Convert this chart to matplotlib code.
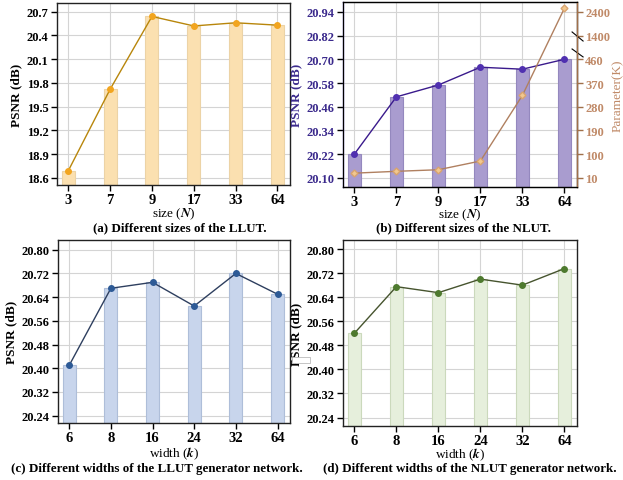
import numpy as np
import matplotlib
matplotlib.use("Agg")
import matplotlib.pyplot as plt
from matplotlib.patches import Rectangle

plt.rcParams['font.family'] = ['Liberation Serif', 'DejaVu Serif']
plt.rcParams['font.weight'] = 'bold'
plt.rcParams['mathtext.fontset'] = 'stix'
plt.rcParams['font.size'] = 10

# data
sizes = ['3', '7', '9', '17', '33', '64']
widths = ['6', '8', '16', '24', '32', '64']
psnr_llut_size = [18.69, 19.72, 20.64, 20.52, 20.56, 20.53]
psnr_nlut_size = [20.22, 20.51, 20.57, 20.66, 20.65, 20.70]
params_nlut = [28, 35, 41, 74, 323, 2550]
psnr_llut_width = [20.41, 20.67, 20.69, 20.61, 20.72, 20.65]
psnr_nlut_width = [20.52, 20.675, 20.655, 20.70, 20.68, 20.735]

W, H = 623, 481
fig = plt.figure(figsize=(W / 100, H / 100), dpi=100)


def box(l, t, r, b):
    return [l / W, (H - b) / H, (r - l) / W, (b - t) / H]


def panel(rect, cats, vals, bar_fc, bar_ec, line_c, mk_c, ylim, yticks, fmt,
          tick_c='black', label_c='black'):
    ax = fig.add_axes(rect)
    x = np.arange(len(cats))
    ax.set_axisbelow(True)
    ax.grid(True, color='#d4d4d4', linewidth=0.8)
    ax.bar(x, np.array(vals) - ylim[0], bottom=ylim[0], width=0.31,
           color=bar_fc, edgecolor=bar_ec, linewidth=0.8, zorder=2)
    ax.plot(x, vals, color=line_c, linewidth=1.0, marker='o', markersize=4,
            markerfacecolor=mk_c, markeredgecolor=mk_c, zorder=3)
    ax.set_xlim(-0.27, 5.3)
    ax.set_ylim(*ylim)
    ax.set_xticks(x)
    ax.set_xticklabels(cats, fontsize=10.5)
    ax.set_yticks(yticks)
    ax.set_yticklabels([fmt % v for v in yticks], fontsize=9, color=tick_c)
    ax.tick_params(direction='out', length=4, width=1, pad=2)
    ax.set_ylabel('PSNR (dB)', fontsize=9.5, fontweight='bold', color=label_c,
                  labelpad=3)
    for s in ax.spines.values():
        s.set_linewidth(1.0)
        s.set_color('#222222')
    return ax


# (a)
ax_a = panel(box(57, 4, 290, 186), sizes, psnr_llut_size, '#fbe0b0', '#ecd3a6',
             '#b8860b', '#f2a51f', (18.51, 20.81),
             [18.6, 18.9, 19.2, 19.5, 19.8, 20.1, 20.4, 20.7], '%.1f')
ax_a.set_xlabel('size ($\\mathit{N}$)', fontsize=9.5, labelpad=-0.5)

# (b)
purple = '#3b2a8c'
tan = '#c08a68'
ax_b = panel(box(343, 3, 577, 188), sizes, psnr_nlut_size, '#a99ccf', '#9488be',
             '#3a1a8c', '#5030b0', (20.054, 20.99),
             [20.10, 20.22, 20.34, 20.46, 20.58, 20.70, 20.82, 20.94], '%.2f',
             tick_c=purple, label_c=purple)
ax_b.spines['left'].set_color(purple)
ax_b.set_xlabel('size ($\\mathit{N}$)', fontsize=9.5, labelpad=-1.5)

# broken parameter axis: piecewise linear mapping onto the PSNR axis
p_pts = np.array([-1000.0, 10.0, 460.0, 1400.0, 2400.0, 12400.0])
y_pts = np.array([20.10 - 1010 / 90 * 0.12, 20.10, 20.70, 20.82, 20.94,
                  20.94 + 10.0 * 0.12])


def fwd(p):
    return np.interp(p, p_pts, y_pts)


def inv(y):
    return np.interp(y, y_pts, p_pts)


ax_p = ax_b.twinx()
ax_p.set_yscale('function', functions=(fwd, inv))
ax_p.set_ylim(inv(20.054), inv(20.99))
ax_p.plot(np.arange(len(sizes)), params_nlut, color='#b08060', linewidth=1.0,
          marker='D', markersize=3.5, markerfacecolor='#f2c88e',
          markeredgecolor='#d8a470', zorder=3)
p_ticks = [10, 100, 190, 280, 370, 460, 1400, 2400]
ax_p.set_yticks(p_ticks)
ax_p.set_yticklabels([str(v) for v in p_ticks], fontsize=9, color=tan)
ax_p.yaxis.set_minor_locator(matplotlib.ticker.NullLocator())
ax_p.tick_params(direction='out', length=4, width=1, colors='#a0704a',
                 labelcolor=tan, pad=2)
ax_p.set_ylabel('Parameter(K)', fontsize=9.5, color=tan, fontweight='normal',
                labelpad=1)
ax_p.spines['right'].set_color('#a0704a')
ax_p.spines['right'].set_linewidth(1.0)
for y0, y1 in [(0.838, 0.789), (0.746, 0.703)]:
    ax_p.plot([0.979, 1.026], [y0, y1], transform=ax_p.transAxes,
              color='black', linewidth=0.8, clip_on=False)

# (c)
ax_c = panel(box(58, 241, 290, 424), widths, psnr_llut_width, '#c8d5ec', '#aebed9',
             '#2e3f5f', '#2d5a96', (20.215, 20.833),
             [20.24, 20.32, 20.40, 20.48, 20.56, 20.64, 20.72, 20.80], '%.2f')
ax_c.set_xlabel('width ($\\mathit{k}$)', fontsize=9.5, labelpad=0)

# (d)
ax_d = panel(box(343, 241, 577, 427), widths, psnr_nlut_width, '#e6efdc', '#cbd9bc',
             '#46542e', '#4e7a2e', (20.212, 20.83),
             [20.24, 20.32, 20.40, 20.48, 20.56, 20.64, 20.72, 20.80], '%.2f')
ax_d.set_xlabel('width ($\\mathit{k}$)', fontsize=9.5, labelpad=-1)

# captions
cap = 9.4
fig.text(180 / W, 1 - 228.5 / H, '(a) Different sizes of the LLUT.', ha='center',
         va='center', fontsize=cap)
fig.text(463 / W, 1 - 228.5 / H, '(b) Different sizes of the NLUT.', ha='center',
         va='center', fontsize=cap)
fig.text(157 / W, 1 - 469 / H, '(c) Different widths of the LLUT generator network.',
         ha='center', va='center', fontsize=cap)
fig.text(470 / W, 1 - 469 / H, '(d) Different widths of the NLUT generator network.',
         ha='center', va='center', fontsize=cap)

# small white box artefact over the (d) label
fig.patches.append(Rectangle((292 / W, 1 - 364 / H), 18 / W, 6 / H,
                             transform=fig.transFigure, facecolor='white',
                             edgecolor='#bbbbbb', linewidth=0.6, zorder=10))

fig.savefig('out.png', dpi=100)
